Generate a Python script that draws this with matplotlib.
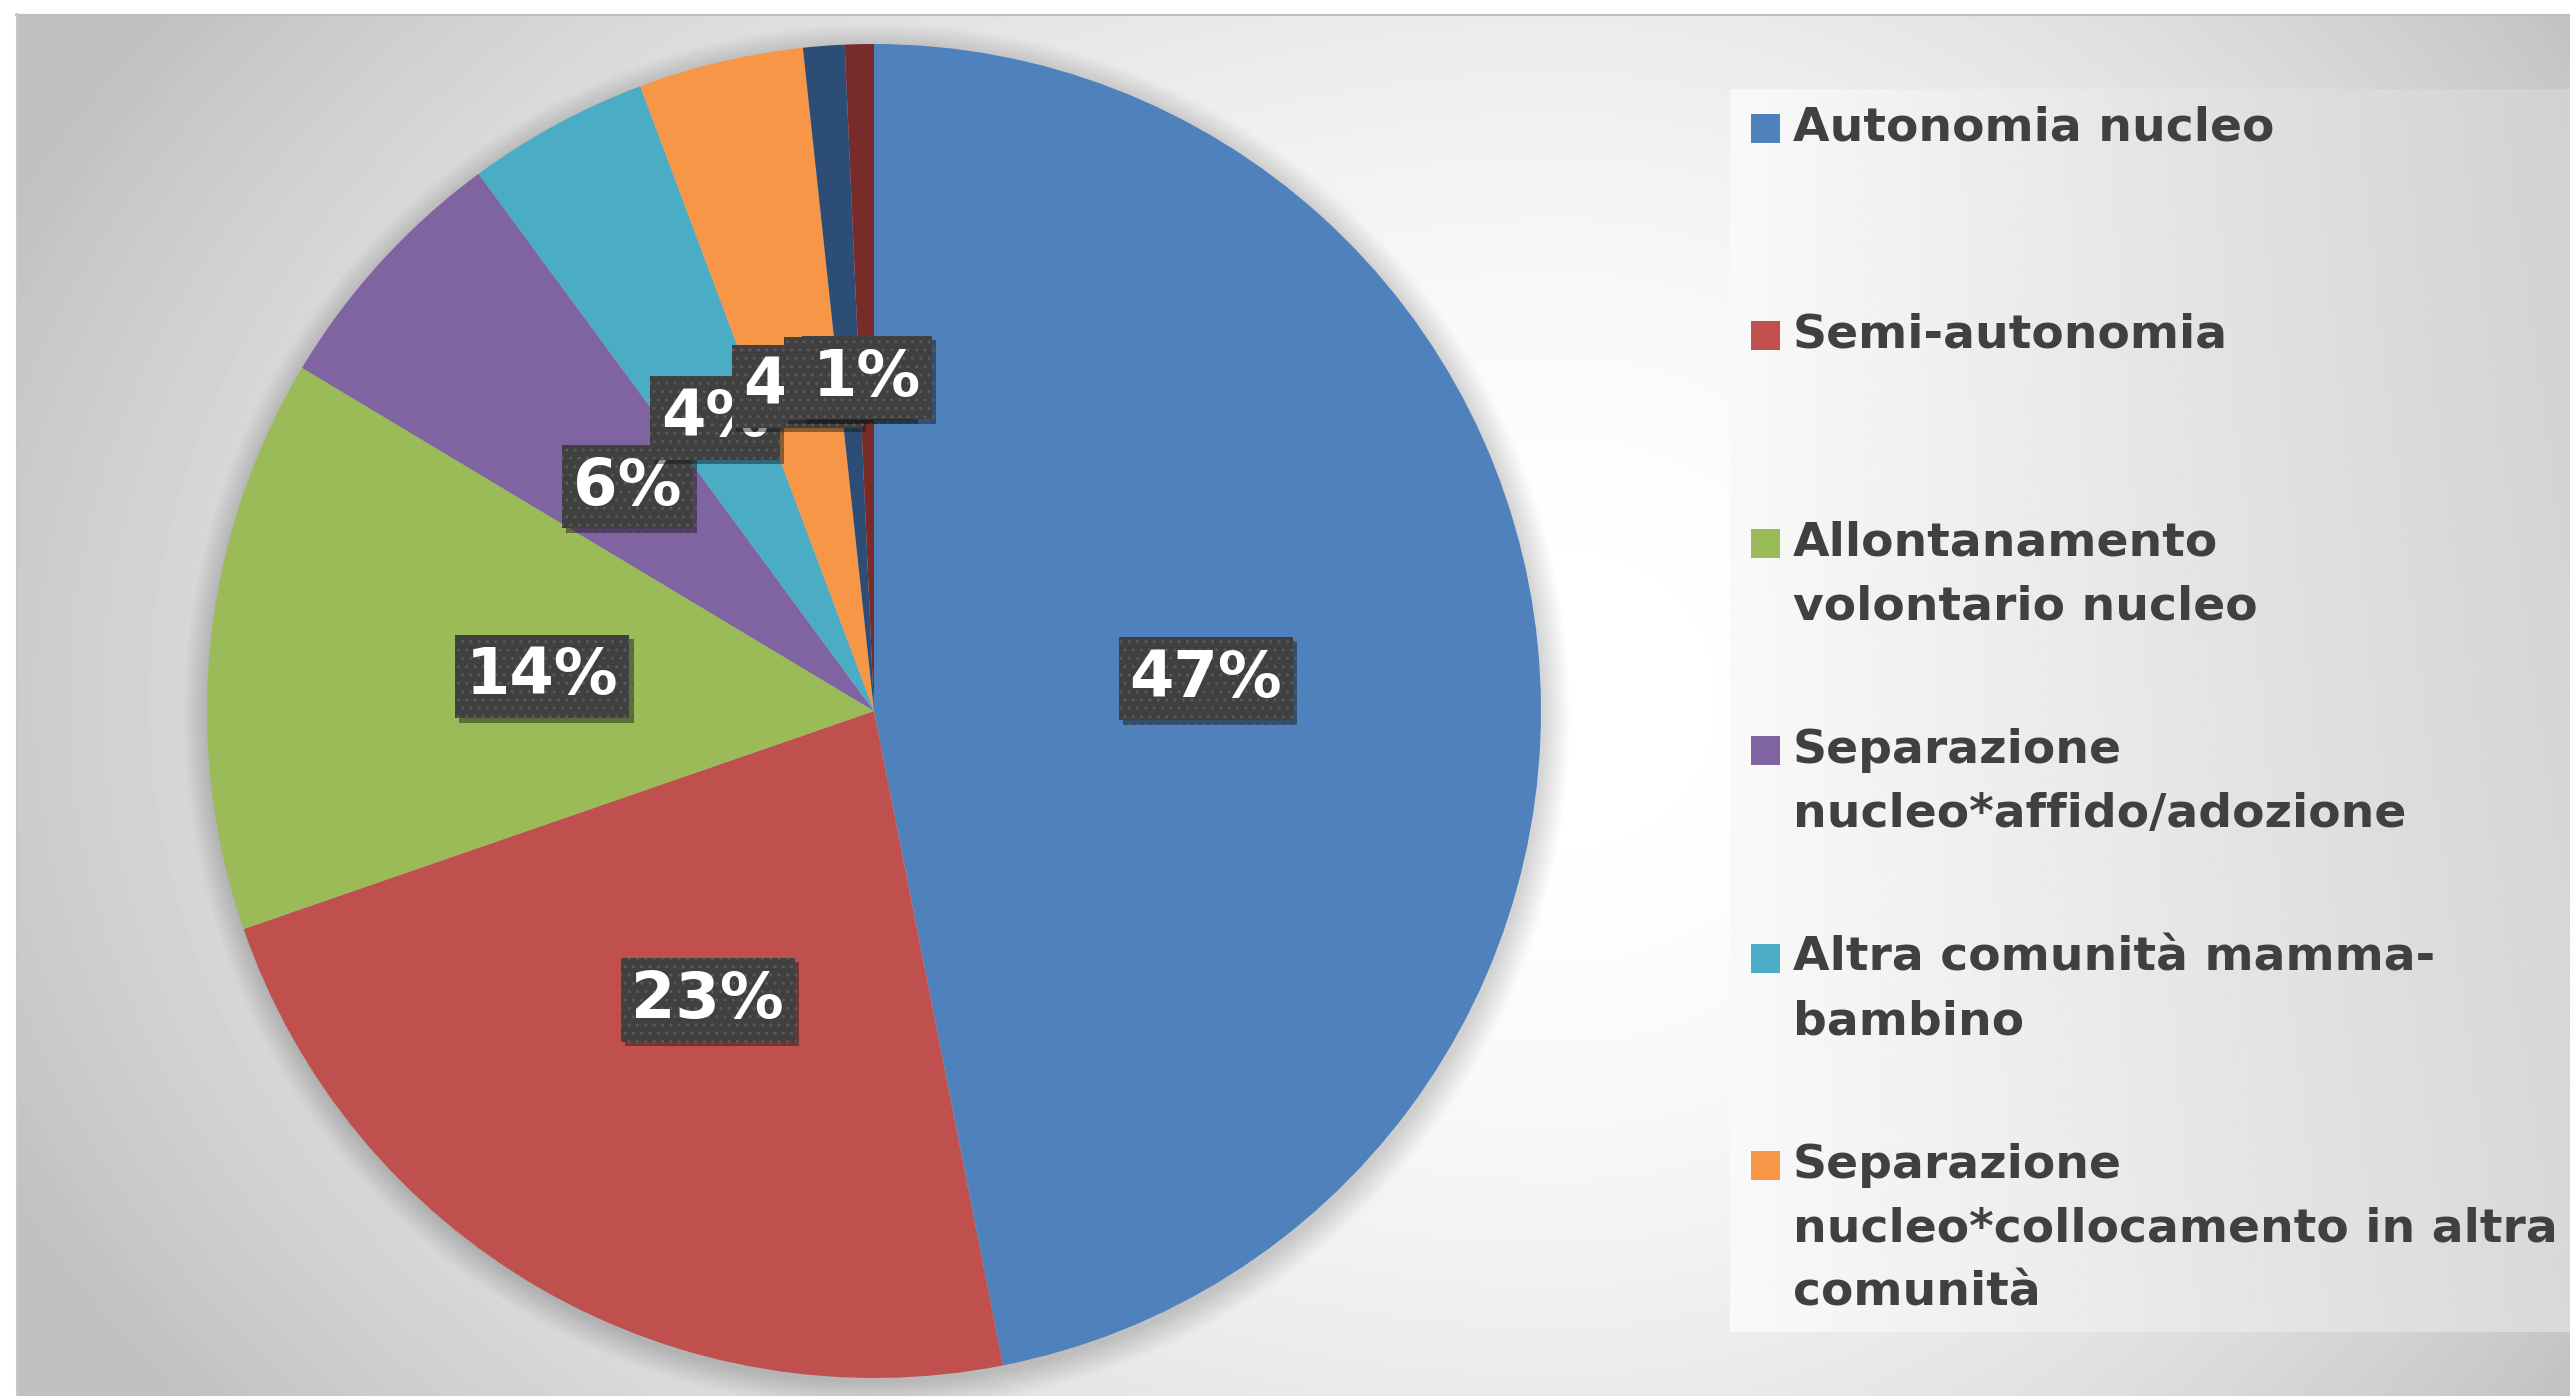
import numpy as np
import matplotlib
matplotlib.use('Agg')
import matplotlib.pyplot as plt
from matplotlib.patches import Rectangle, Circle
import matplotlib.patheffects as pe

# valori (percentuali, in senso orario dall'alto)
categorie = ['Autonomia nucleo',
             'Semi-autonomia',
             'Allontanamento\nvolontario nucleo',
             'Separazione\nnucleo*affido/adozione',
             'Altra comunità mamma-\nbambino',
             'Separazione\nnucleo*collocamento in altra\ncomunità',
             '', '']  # le ultime due voci sono tagliate fuori dalla legenda
percentuali = [46.9, 22.8, 13.9, 6.3, 4.4, 4.0, 1.0, 0.7]
colori = ['#4F81BD', '#C0504D', '#9BBB59', '#8064A2',
          '#4BACC6', '#F79646', '#2C4D75', '#772C2A']

W, H = 2570, 1396
fig = plt.figure(figsize=(W / 100, H / 100), dpi=100, facecolor='white')

# sfondo in coordinate pixel
bg = fig.add_axes([0, 0, 1, 1], zorder=0)
bg.set_xlim(0, W)
bg.set_ylim(H, 0)
bg.axis('off')

# sfondo del grafico: gradiente radiale grigio/bianco
xs = np.linspace(16, W, 600)
ys = np.linspace(14, H, 330)
X, Y = np.meshgrid(xs, ys)
cx, cy = 1560, 700
dx = np.where(X < cx, (X - cx) / 1700, (X - cx) / 1250)
dy = (Y - cy) / 1200
d = np.clip(np.sqrt(dx ** 2 + dy ** 2), 0, 1)
img = 255 - 62 * d ** 2
bg.imshow(img, cmap='gray', vmin=0, vmax=255, extent=(16, W, H, 14),
          aspect='auto', interpolation='bilinear', zorder=0)
bg.plot([16, W], [14.5, 14.5], color='#bdbdbd', lw=1.5, zorder=1)
bg.plot([16.5, 16.5], [14, H], color='#c8c8c8', lw=1.5, zorder=1)

# riquadro legenda con gradiente orizzontale
lx0, lx1, ly0, ly1 = 1730, W, 89, 1332
gx = np.linspace(0, 1, 300)
gy = np.linspace(0, 1, 200)
GX, GY = np.meshgrid(gx, gy)
limg = 249 - 32 * GX - 8 * (1 - GY) * GX
bg.imshow(limg, cmap='gray', vmin=0, vmax=255, extent=(lx0, lx1, ly1, ly0),
          aspect='auto', interpolation='bilinear', zorder=2)
clip_rect = Rectangle((lx0, ly0), lx1 - lx0, ly1 - ly0, transform=bg.transData)

y0, passo, interlinea = 128, 207.5, 64
for i, (lab, col) in enumerate(zip(categorie, colori)):
    if not lab:
        continue
    yy = y0 + i * passo
    q = Rectangle((1751, yy - 14.5), 29, 29, facecolor=col, edgecolor='none', zorder=3)
    bg.add_patch(q)
    q.set_clip_path(clip_rect)
    for j, riga in enumerate(lab.split('\n')):
        t = bg.text(1793, yy + j * interlinea, riga, fontsize=34, fontweight='bold',
                    color='#404040', ha='left', va='center', family='DejaVu Sans', zorder=3)
        t.set_clip_path(clip_rect)

# torta
R = 667
pcx, pcy = 874, 711
S = 2 * 1.1 * R
ax = fig.add_axes([(pcx - S / 2) / W, (H - pcy - S / 2) / H, S / W, S / H], zorder=1)

# ombra morbida attorno alla torta
for k in range(14):
    ax.add_patch(Circle((0.004, -0.008), 1 + k * 0.003, facecolor='black',
                        edgecolor='none', alpha=0.013, zorder=0.5))

wedges, testi, autotesti = ax.pie(
    percentuali, colors=colori, startangle=90, counterclock=False,
    autopct='%.0f%%', pctdistance=0.5,
    wedgeprops=dict(linewidth=0, edgecolor='none'),
    textprops=dict(color='white', fontsize=46, fontweight='bold', family='DejaVu Sans'))
for i, t in enumerate(autotesti):
    t.set_bbox(dict(boxstyle='square,pad=0.17', facecolor='#404040',
                    edgecolor='#595959', linewidth=0, hatch='..'))
    t.set_zorder(5 + i)
    t.get_bbox_patch().set_path_effects(
        [pe.SimplePatchShadow(offset=(3, -3), alpha=0.45), pe.Normal()])
ax.set_xlim(-1.1, 1.1)
ax.set_ylim(-1.1, 1.1)
ax.set_aspect('equal')
ax.axis('off')

fig.savefig('out.png', dpi=100, facecolor='white')
